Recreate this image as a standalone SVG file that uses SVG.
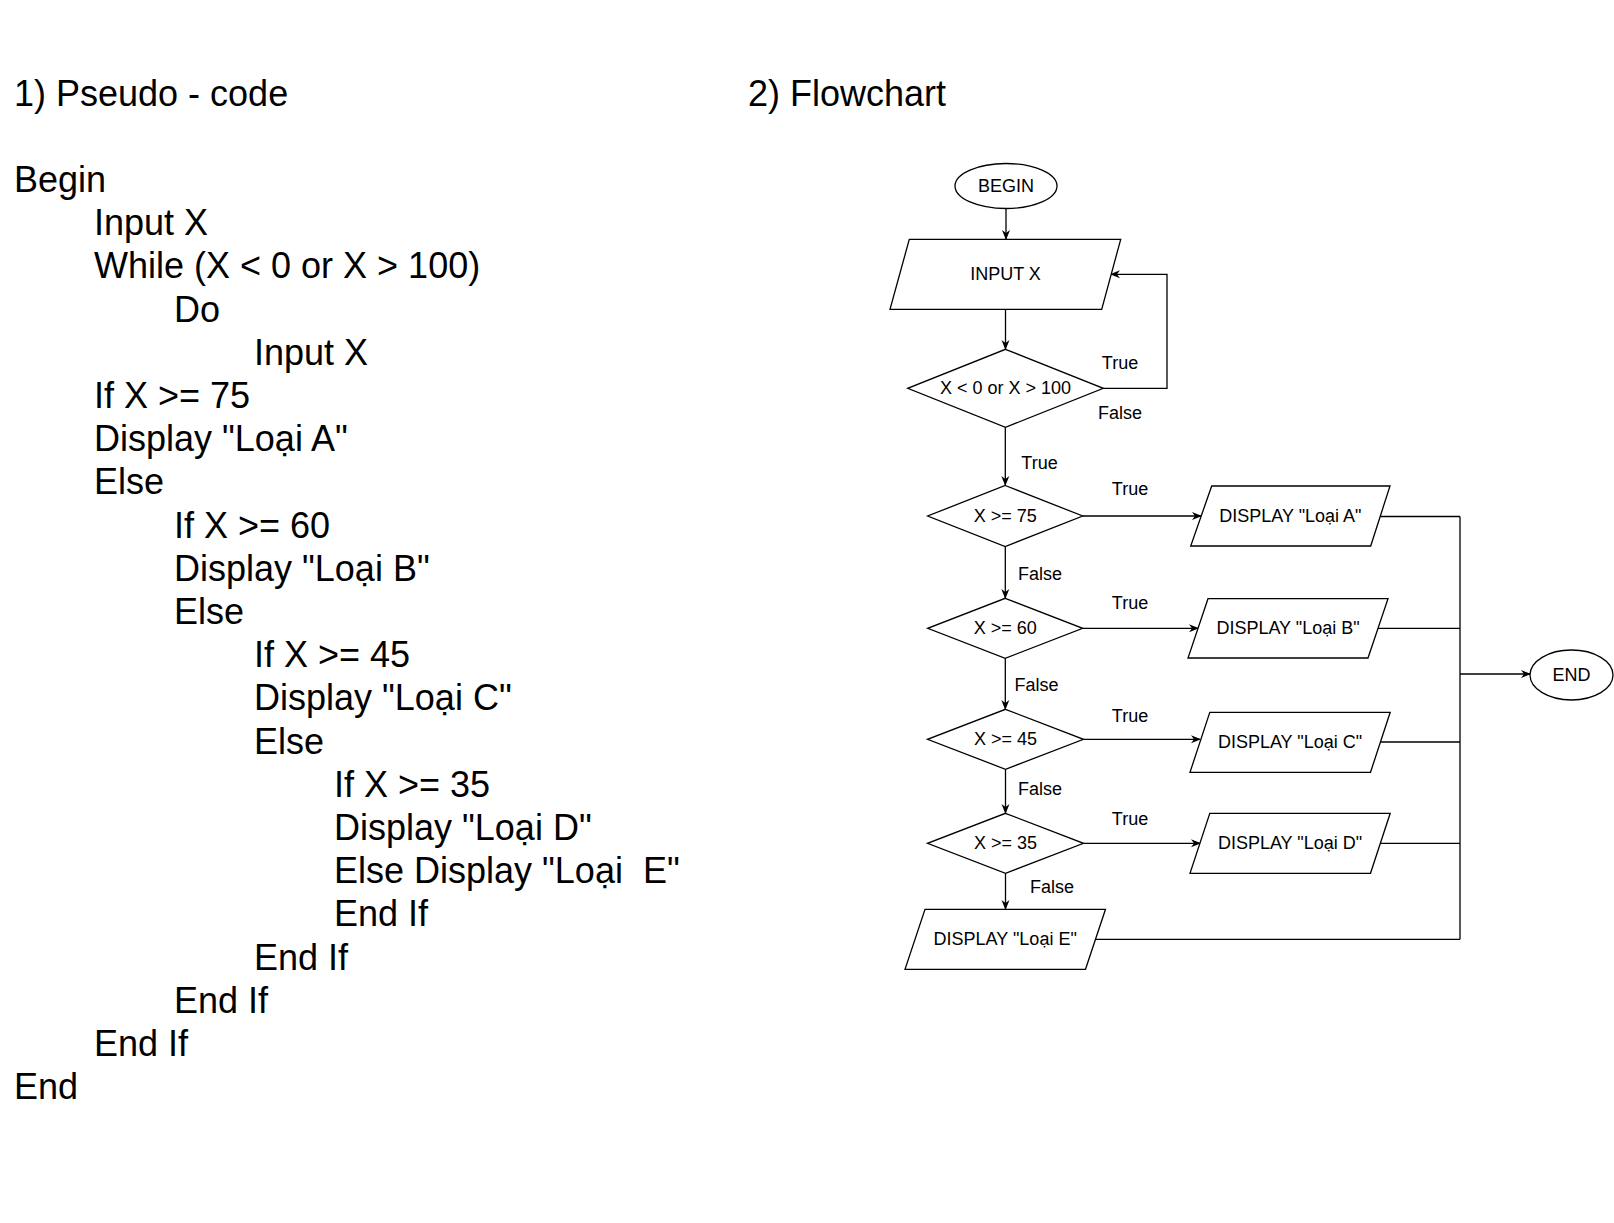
<svg xmlns="http://www.w3.org/2000/svg" width="1614" height="1223" viewBox="0 0 1614 1223">
<style>
.code{font-family:"Liberation Sans",Arial,sans-serif;font-size:36px;fill:#000}
.t{font-family:"Liberation Sans",Arial,sans-serif;font-size:18px;fill:#000;text-anchor:middle;dominant-baseline:central}
.shape{fill:#fff;stroke:#000;stroke-width:1.3}
.edge{fill:none;stroke:#000;stroke-width:1.3}
.arr{marker-end:url(#ah)}
</style>
<defs>
<marker id="ah" viewBox="0 0 10 10" refX="9" refY="5" markerWidth="10" markerHeight="10" markerUnits="userSpaceOnUse" orient="auto">
<path d="M0,1 L10,5 L0,9 L3,5 z" fill="#000"/>
</marker>
</defs>
<rect width="1614" height="1223" fill="#fff"/>

<g id="pseudocode">
<text class="code" x="14" y="105.5">1) Pseudo - code</text>
<text class="code" x="14" y="192">Begin</text>
<text class="code" x="94" y="235.2">Input X</text>
<text class="code" x="94" y="278.4">While (X &lt; 0 or X &gt; 100)</text>
<text class="code" x="174" y="321.6">Do</text>
<text class="code" x="254" y="364.8">Input X</text>
<text class="code" x="94" y="408">If X &gt;= 75</text>
<text class="code" x="94" y="451.2">Display "Loại A"</text>
<text class="code" x="94" y="494.4">Else</text>
<text class="code" x="174" y="537.6">If X &gt;= 60</text>
<text class="code" x="174" y="580.8">Display "Loại B"</text>
<text class="code" x="174" y="624">Else</text>
<text class="code" x="254" y="667.2">If X &gt;= 45</text>
<text class="code" x="254" y="710.4">Display "Loại C"</text>
<text class="code" x="254" y="753.6">Else</text>
<text class="code" x="334" y="796.8">If X &gt;= 35</text>
<text class="code" x="334" y="840">Display "Loại D"</text>
<text class="code" x="334" y="883.2" xml:space="preserve">Else Display "Loại  E"</text>
<text class="code" x="334" y="926.4">End If</text>
<text class="code" x="254" y="969.6">End If</text>
<text class="code" x="174" y="1012.8">End If</text>
<text class="code" x="94" y="1056">End If</text>
<text class="code" x="14" y="1099.2">End</text>
<text class="code" x="748" y="105.5">2) Flowchart</text>
</g>

<g id="connectors">
<path class="edge arr" d="M1006,208.5 V239"/>
<path class="edge arr" d="M1005.5,309.3 V349"/>
<path class="edge arr" d="M1103.3,388.3 H1167 V274.3 H1111"/>
<path class="edge arr" d="M1005.3,427.3 V485"/>
<path class="edge arr" d="M1082.7,516 H1201"/>
<path class="edge arr" d="M1005.3,546.5 V598"/>
<path class="edge arr" d="M1082.7,628.3 H1198"/>
<path class="edge arr" d="M1005.3,658.3 V709"/>
<path class="edge arr" d="M1083.5,739.3 H1200"/>
<path class="edge arr" d="M1005.5,769.3 V813"/>
<path class="edge arr" d="M1083.5,843.3 H1200"/>
<path class="edge arr" d="M1005.5,873.3 V909"/>
<path class="edge" d="M1380.3,516.5 H1460"/>
<path class="edge" d="M1378,628.3 H1460"/>
<path class="edge" d="M1380.3,742 H1460"/>
<path class="edge" d="M1380.3,843.3 H1460"/>
<path class="edge" d="M1095.3,939.3 H1460"/>
<path class="edge" d="M1460,516.5 V939.3"/>
<path class="edge arr" d="M1460,674 H1530"/>
<text class="t" x="1120" y="362.7">True</text>
<text class="t" x="1120" y="412.7">False</text>
<text class="t" x="1039.5" y="463">True</text>
<text class="t" x="1130" y="489">True</text>
<text class="t" x="1040" y="574">False</text>
<text class="t" x="1130" y="603">True</text>
<text class="t" x="1036.5" y="685">False</text>
<text class="t" x="1130" y="716">True</text>
<text class="t" x="1040" y="789.3">False</text>
<text class="t" x="1130" y="819.3">True</text>
<text class="t" x="1052" y="887.3">False</text>
</g>

<g id="begin">
<ellipse class="shape" cx="1006" cy="186" rx="51" ry="22.5"/>
<text class="t" x="1006" y="186">BEGIN</text>
</g>
<g id="input">
<polygon class="shape" points="909.3,239.3 1120.7,239.3 1101.7,309.3 890,309.3"/>
<text class="t" x="1005.5" y="274.3">INPUT X</text>
</g>
<g id="cond-range">
<polygon class="shape" points="1005.5,349.3 1103.3,388.3 1005.5,427.3 907.7,388.3"/>
<text class="t" x="1005.5" y="388.3">X &lt; 0 or X &gt; 100</text>
</g>
<g id="cond-75">
<polygon class="shape" points="1005.2,485.5 1082.7,516 1005.2,546.5 927.7,516"/>
<text class="t" x="1005.2" y="516">X &gt;= 75</text>
</g>
<g id="display-a">
<polygon class="shape" points="1211.7,486 1390,486 1370.7,546 1190.7,546"/>
<text class="t" x="1290.4" y="516">DISPLAY "Loại A"</text>
</g>
<g id="cond-60">
<polygon class="shape" points="1005.2,598.3 1082.7,628.3 1005.2,658.3 927.7,628.3"/>
<text class="t" x="1005.2" y="628.3">X &gt;= 60</text>
</g>
<g id="display-b">
<polygon class="shape" points="1208,598.7 1388,598.7 1368,658 1188,658"/>
<text class="t" x="1288" y="628.3">DISPLAY "Loại B"</text>
</g>
<g id="cond-45">
<polygon class="shape" points="1005.5,709.3 1083.5,739.3 1005.5,769.3 927.5,739.3"/>
<text class="t" x="1005.5" y="739.3">X &gt;= 45</text>
</g>
<g id="display-c">
<polygon class="shape" points="1209.8,712.3 1390.2,712.3 1370.5,772.3 1190,772.3"/>
<text class="t" x="1290" y="742">DISPLAY "Loại C"</text>
</g>
<g id="cond-35">
<polygon class="shape" points="1005.5,813.3 1083.5,843.3 1005.5,873.3 927.5,843.3"/>
<text class="t" x="1005.5" y="843.3">X &gt;= 35</text>
</g>
<g id="display-d">
<polygon class="shape" points="1209.8,813.3 1390.2,813.3 1370.5,873.3 1190,873.3"/>
<text class="t" x="1290" y="843.3">DISPLAY "Loại D"</text>
</g>
<g id="display-e">
<polygon class="shape" points="925,909.3 1105.5,909.3 1085.5,969.3 905,969.3"/>
<text class="t" x="1005.2" y="939.3">DISPLAY "Loại E"</text>
</g>
<g id="end">
<ellipse class="shape" cx="1571.5" cy="675" rx="41.5" ry="25"/>
<text class="t" x="1571.5" y="675">END</text>
</g>
</svg>
